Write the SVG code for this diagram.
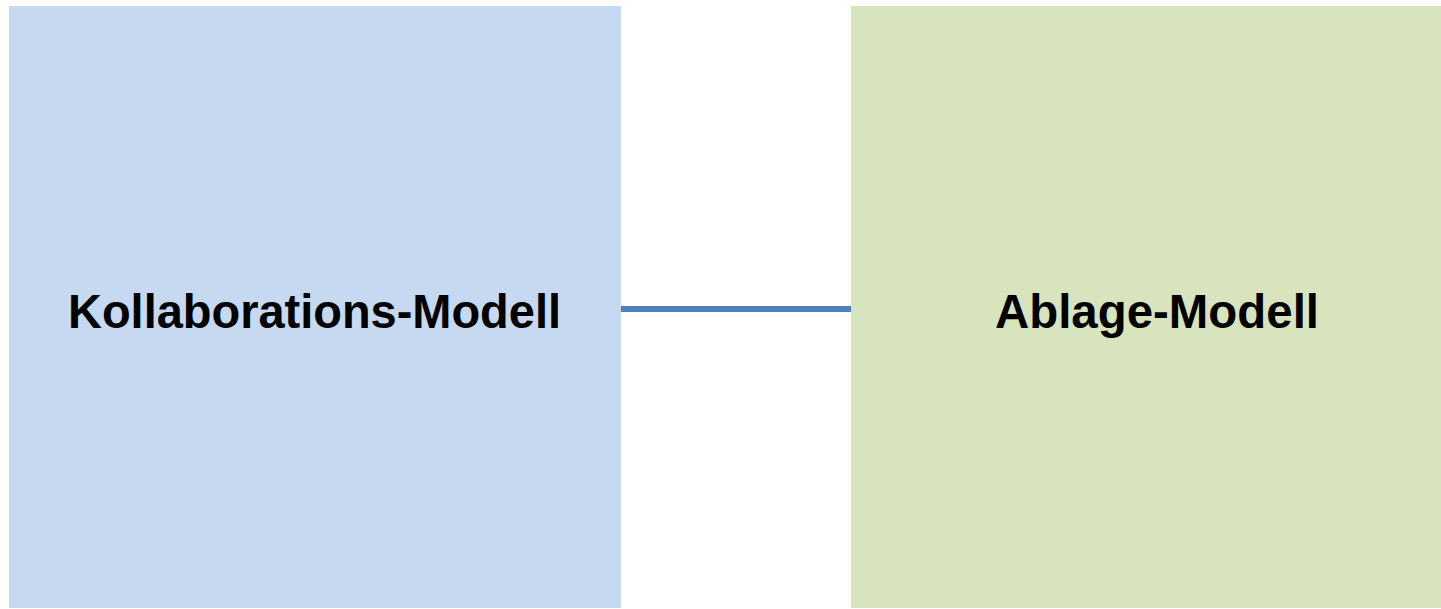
<svg xmlns="http://www.w3.org/2000/svg" width="1441" height="609" viewBox="0 0 1441 609">
<style>
.lbl{font-family:"Liberation Sans",Arial,sans-serif;font-weight:bold;font-size:48px;fill:#000;text-anchor:middle}
</style>
<rect width="1441" height="609" fill="#fff"/>
<g id="connectors">
<line x1="620" y1="309" x2="852" y2="309" stroke="#4F81BD" stroke-width="6"/>
</g>
<g id="kollaborations">
<rect x="9" y="6" width="612" height="602" fill="#C6D9F1"/>
<text class="lbl" x="314.5" y="328" textLength="493" lengthAdjust="spacingAndGlyphs">Kollaborations-Modell</text>
</g>
<g id="ablage">
<rect x="851" y="6" width="590" height="602" fill="#D7E4BD"/>
<text class="lbl" x="1157" y="328" textLength="324" lengthAdjust="spacingAndGlyphs">Ablage-Modell</text>
</g>
</svg>
